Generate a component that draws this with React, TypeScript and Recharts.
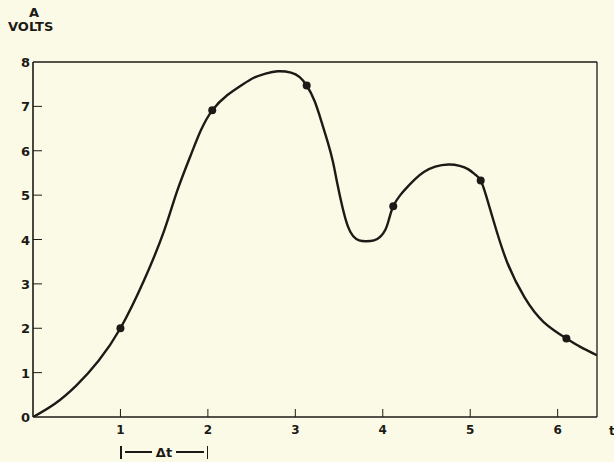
import React from "react";
import {
  ComposedChart,
  Line,
  Scatter,
  XAxis,
  YAxis,
  ReferenceLine,
} from "recharts";

// Curve (time, volts)
const curveTimes = [
  0, 0.25, 0.5, 0.75, 1.0, 1.27, 1.5, 1.65, 1.81, 1.92, 2.05, 2.22, 2.38, 2.52,
  2.66, 2.8, 2.95, 3.05, 3.13, 3.22, 3.3, 3.37, 3.43, 3.48, 3.54, 3.6, 3.66,
  3.73, 3.81, 3.9, 3.97, 4.03, 4.07, 4.12, 4.2, 4.28, 4.37, 4.47, 4.6, 4.75,
  4.88, 4.98, 5.06, 5.12, 5.18, 5.27, 5.42, 5.62, 5.84, 6.1, 6.26, 6.45,
];
const curveVolts = [
  0, 0.3, 0.72, 1.27, 2.0, 3.08, 4.2, 5.1, 5.93, 6.46, 6.91, 7.25, 7.47, 7.64,
  7.74, 7.79, 7.76, 7.66, 7.47, 7.12, 6.65, 6.2, 5.75, 5.26, 4.72, 4.3, 4.08,
  3.98, 3.96, 3.98, 4.06, 4.22, 4.45, 4.75, 5.0, 5.18, 5.36, 5.52, 5.64, 5.69,
  5.66, 5.58, 5.46, 5.33, 5.0, 4.4, 3.5, 2.7, 2.14, 1.77, 1.58, 1.39,
];

// Sample dots
const dotTimes = [1.0, 2.05, 3.13, 4.12, 5.12, 6.1];
const dotVolts = [2.0, 6.91, 7.47, 4.75, 5.33, 1.77];

const xTicks = [1, 2, 3, 4, 5, 6];
const yTicks = [0, 1, 2, 3, 4, 5, 6, 7, 8];
const xMax = 6.45;
const yMax = 8;

const curveData = curveTimes.map((t, i) => ({ t, v: curveVolts[i] }));
const dotData = dotTimes.map((t, i) => ({ t, v: dotVolts[i] }));

const INK = "#1c1a16";
const BG = "#fbfae6";
const FONT = "'DejaVu Sans', 'Liberation Sans', Arial, sans-serif";

const XTick = (props: any) => {
  const { x, y, payload } = props;
  return (
    <g>
      <line x1={x} y1={y} x2={x} y2={y - 8} stroke={INK} strokeWidth={1} />
      <text
        x={x}
        y={y + 17}
        textAnchor="middle"
        fontSize={12}
        fontWeight="bold"
        fontFamily={FONT}
        fill={INK}
      >
        {payload.value}
      </text>
    </g>
  );
};

const YTick = (props: any) => {
  const { x, y, payload } = props;
  return (
    <g>
      {payload.value !== 0 && payload.value !== 8 && (
        <line x1={x} y1={y} x2={x + 9} y2={y} stroke={INK} strokeWidth={1} />
      )}
      <text
        x={x - 3}
        y={y + 5}
        textAnchor="end"
        fontSize={13}
        fontWeight="bold"
        fontFamily={FONT}
        fill={INK}
      >
        {payload.value}
      </text>
    </g>
  );
};

const labelStyle: React.CSSProperties = {
  position: "absolute",
  fontFamily: FONT,
  fontSize: 13,
  fontWeight: "bold",
  color: INK,
  lineHeight: "14px",
  whiteSpace: "nowrap",
};

export default function App() {
  return (
    <div
      style={{
        position: "fixed",
        left: 0,
        top: 0,
        width: 614,
        height: 462,
        background: BG,
        overflow: "hidden",
      }}
    >
      <ComposedChart
        width={614}
        height={462}
        margin={{ top: 62, right: 17, left: 0, bottom: 0 }}
      >
        <XAxis
          dataKey="t"
          type="number"
          domain={[0, xMax]}
          ticks={xTicks}
          allowDataOverflow
          tickLine={false}
          tickSize={0}
          tickMargin={0}
          tick={<XTick />}
          axisLine={{ stroke: INK, strokeWidth: 1.6 }}
          height={45}
        />
        <YAxis
          dataKey="v"
          type="number"
          domain={[0, yMax]}
          ticks={yTicks}
          allowDataOverflow
          tickLine={false}
          tickSize={0}
          tickMargin={0}
          tick={<YTick />}
          axisLine={{ stroke: INK, strokeWidth: 1.6 }}
          width={33}
        />
        <ReferenceLine y={yMax} stroke={INK} strokeWidth={1.3} />
        <ReferenceLine x={xMax} stroke={INK} strokeWidth={1.3} />
        <Line
          data={curveData}
          dataKey="v"
          type="natural"
          stroke={INK}
          strokeWidth={2.4}
          dot={false}
          activeDot={false}
          isAnimationActive={false}
        />
        <Scatter
          data={dotData}
          dataKey="v"
          fill={INK}
          shape={(p: any) => <circle cx={p.cx} cy={p.cy} r={4} fill={INK} />}
          isAnimationActive={false}
        />
      </ComposedChart>
      <div style={{ ...labelStyle, left: 29, top: 6 }}>A</div>
      <div style={{ ...labelStyle, left: 8, top: 20 }}>VOLTS</div>
      <div
        style={{
          position: "absolute",
          left: 120,
          top: 444,
          width: 88,
          height: 16,
          display: "flex",
          alignItems: "center",
          fontFamily: FONT,
          fontSize: 13,
          fontWeight: "bold",
          color: INK,
        }}
      >
        <div style={{ width: 1.5, height: 13, background: INK }} />
        <div style={{ flex: 1, height: 1.5, background: INK, marginLeft: 3 }} />
        <span style={{ margin: "0 4px" }}>Δt</span>
        <div style={{ flex: 1, height: 1.5, background: INK, marginRight: 3 }} />
        <div style={{ width: 1.5, height: 13, background: INK }} />
      </div>
      <div style={{ ...labelStyle, left: 609, top: 424, fontSize: 12 }}>t</div>
    </div>
  );
}
